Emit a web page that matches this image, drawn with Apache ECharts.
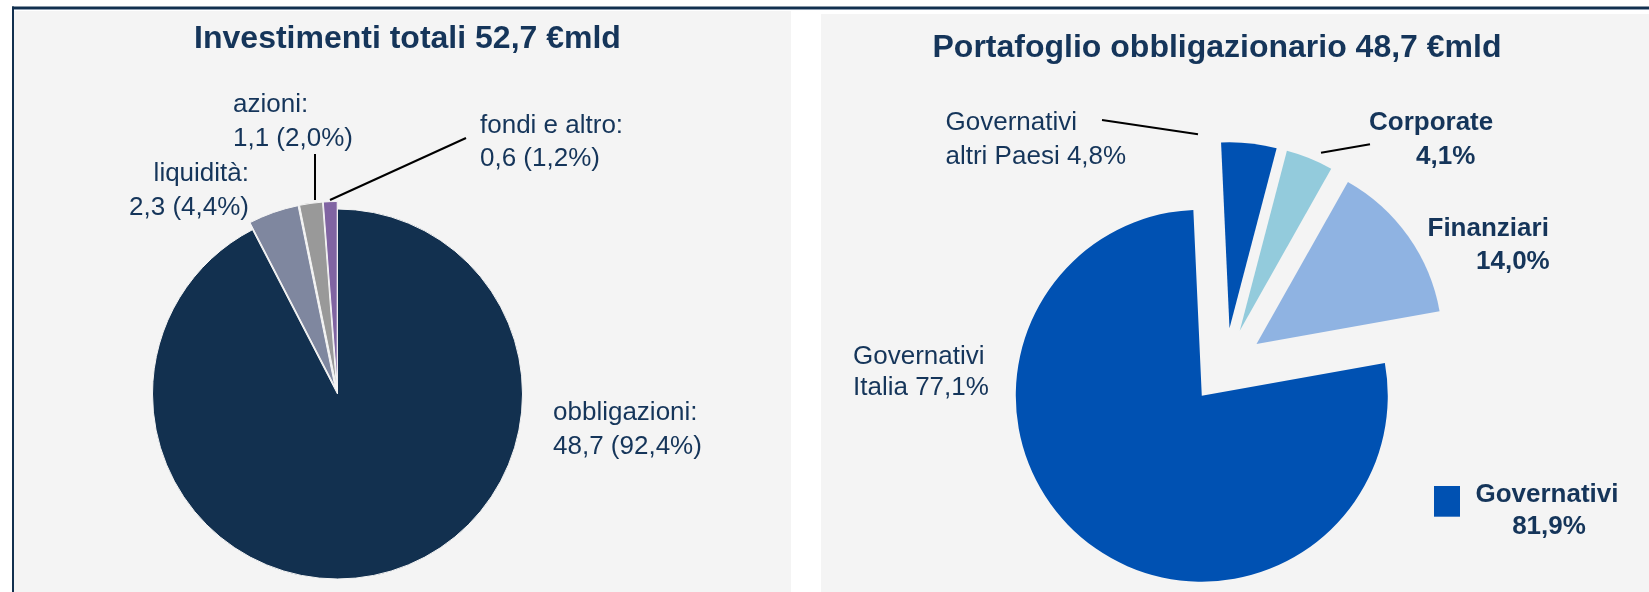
<!DOCTYPE html>
<html>
<head>
<meta charset="utf-8">
<title>Investimenti</title>
<script src="https://cdn.jsdelivr.net/npm/echarts@6/dist/echarts.min.js"></script>
<style>
  html, body { margin: 0; padding: 0; background: #fff; }
  #chart { width: 1649px; height: 592px; }
</style>
</head>
<body>
<div id="chart"></div>
<script>
// investimenti totali (€mld e quota %)
const totalNames = ['obbligazioni', 'liquidità', 'azioni', 'fondi e altro']
const totalAmounts = [48.7, 2.3, 1.1, 0.6]
const totalShares = [92.4, 4.4, 2.0, 1.2]
const totalColors = ['#12304f', '#7f879f', '#999999', '#8064a2']

// portafoglio obbligazionario (quota %)
const bondNames = ['Governativi altri Paesi', 'Corporate', 'Finanziari', 'Governativi Italia']
const bondShares = [4.8, 4.1, 14.0, 77.1]
const bondColors = ['#0051b2', '#93cbdc', '#8fb3e2', '#0051b2']
const govIdx = [0, 3] // le due voci "Governativi"

const FONT = '"Liberation Sans", Arial, sans-serif'
const INK = '#15355a'

const fmt = v => v.toFixed(1).replace('.', ',')
const sum = arr => arr.reduce((a, b) => a + b, 0)

// testo con y = linea di base
const txt = (x, base, text, size, bold, align) => ({
  type: 'text',
  z: 100,
  style: {
    x: x,
    y: base - size * 0.3465,
    text: text,
    fill: INK,
    font: (bold ? 'bold ' : '') + size + 'px ' + FONT,
    textAlign: align || 'left',
    textVerticalAlign: 'middle',
  },
})
const leader = (x1, y1, x2, y2) => ({
  type: 'line',
  z: 100,
  shape: { x1, y1, x2, y2 },
  style: { stroke: '#000', lineWidth: 2 },
})

const totalLabel = i => [totalNames[i] + ':', fmt(totalAmounts[i]) + ' (' + fmt(totalShares[i]) + '%)']
const bondLabel = i => {
  const words = bondNames[i].split(' ')
  const first = words.shift()
  return [first, (words.join(' ') + ' ' + fmt(bondShares[i]) + '%').trim()]
}

const [obb, liq, az, fon] = [0, 1, 2, 3].map(totalLabel)
const [alt, corp, fin, ita] = [0, 1, 2, 3].map(bondLabel)
const govTotal = sum(govIdx.map(i => bondShares[i]))

const chart = echarts.init(document.getElementById('chart'))

chart.setOption({
  animation: false,
  backgroundColor: '#ffffff',
  graphic: [
    // pannelli
    { type: 'rect', z: 0, shape: { x: 14, y: 11, width: 777, height: 581 }, style: { fill: '#f4f4f4' } },
    { type: 'rect', z: 0, shape: { x: 821, y: 14, width: 828, height: 578 }, style: { fill: '#f4f4f4' } },
    { type: 'rect', z: 1, shape: { x: 12, y: 6.5, width: 1637, height: 2.5 }, style: { fill: '#12304f' } },
    { type: 'rect', z: 1, shape: { x: 12, y: 9, width: 1637, height: 1 }, style: { fill: '#8d9db0' } },
    { type: 'rect', z: 1, shape: { x: 12, y: 6.5, width: 2, height: 586 }, style: { fill: '#12304f' } },

    // titoli
    txt(407.5, 50, 'Investimenti totali ' + fmt(sum(totalAmounts)) + ' €mld', 32, true, 'center'),
    txt(1217, 59, 'Portafoglio obbligazionario ' + fmt(totalAmounts[0]) + ' €mld', 32, true, 'center'),

    // etichette investimenti totali
    txt(233, 114, az[0], 26),
    txt(233, 148.3, az[1], 26),
    txt(249, 183.3, liq[0], 26, false, 'right'),
    txt(249, 216.7, liq[1], 26, false, 'right'),
    txt(480, 135, fon[0], 26),
    txt(480, 168.3, fon[1], 26),
    txt(553, 421.7, obb[0], 26),
    txt(553, 456, obb[1], 26),
    leader(315, 154, 315, 200),
    leader(330, 200, 466, 138),

    // etichette portafoglio obbligazionario
    txt(945.5, 132.3, alt[0], 26),
    txt(945.5, 165.7, alt[1], 26),
    txt(1369, 132.3, corp[0], 26, true),
    txt(1416, 165.7, corp[1], 26, true),
    txt(1427.5, 237.7, fin[0], 26, true),
    txt(1476, 271, fin[1], 26, true),
    txt(853, 366, ita[0], 26),
    txt(853, 397.3, ita[1], 26),
    leader(1102, 120, 1198, 134.3),
    leader(1321, 152.7, 1370, 144.3),

    // legenda
    { type: 'rect', z: 100, shape: { x: 1434, y: 486, width: 26, height: 30.7 }, style: { fill: bondColors[0] } },
    txt(1547, 504, 'Governativi', 26, true, 'center'),
    txt(1549, 536, fmt(govTotal) + '%', 26, true, 'center'),
  ],
  series: [
    {
      name: 'Investimenti totali',
      type: 'pie',
      center: [337.5, 394],
      radius: 185,
      startAngle: 90,
      clockwise: true,
      silent: true,
      selectedMode: 'multiple',
      selectedOffset: 7.5,
      label: { show: false },
      labelLine: { show: false },
      emphasis: { disabled: true },
      itemStyle: { borderColor: '#f4f4f4', borderWidth: 1 },
      select: { itemStyle: { borderColor: '#f4f4f4', borderWidth: 1 } },
      data: totalNames.map((name, i) => ({
        name,
        value: totalShares[i],
        selected: i > 0,
        itemStyle: { color: totalColors[i] },
      })),
    },
    {
      name: 'Portafoglio obbligazionario',
      type: 'pie',
      center: [1225.5, 366],
      radius: 186,
      startAngle: 92.6,
      clockwise: true,
      silent: true,
      selectedMode: 'multiple',
      selectedOffset: 38,
      label: { show: false },
      labelLine: { show: false },
      emphasis: { disabled: true },
      itemStyle: { borderWidth: 0 },
      select: { itemStyle: { borderWidth: 0 } },
      data: bondNames.map((name, i) => ({
        name,
        value: bondShares[i],
        selected: true,
        itemStyle: { color: bondColors[i] },
      })),
    },
  ],
})
</script>
</body>
</html>
